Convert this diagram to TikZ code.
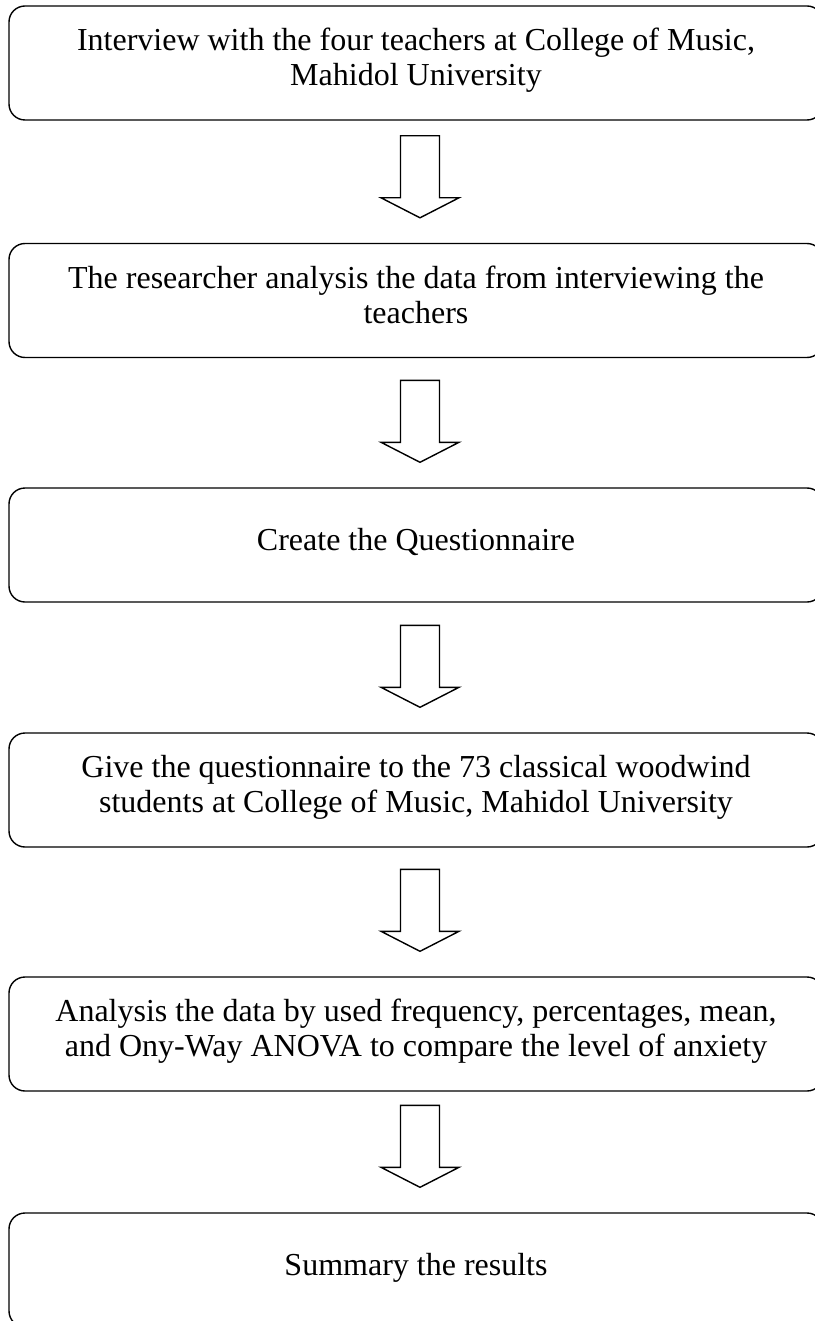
\documentclass[tikz,border=0pt]{standalone}
\usepackage{fontspec}
\setmainfont{Liberation Serif}
\usetikzlibrary{calc}
% strut giving every text line the same height and depth
\newcommand{\lnstrut}{\rule[-12pt]{0pt}{32pt}}
\tikzset{
  stepbox/.style={draw=black, line width=1.4pt, rounded corners=16pt,
    minimum width=814pt, minimum height=114pt, inner sep=0pt,
    align=center, font=\fontsize{32}{35}\selectfont},
  fatarrow/.pic={
    \draw[line width=1.4pt, line join=miter, fill=white]
      (0,0) -- (39,-20) -- (19.5,-20) -- (19.5,-82) -- (-19.5,-82)
      -- (-19.5,-20) -- (-39,-20) -- cycle;
  }
}
\begin{document}
\begin{tikzpicture}[x=1pt, y=-1pt]
\useasboundingbox (0,0) rectangle (814,1321);
\fill[white] (0,0) rectangle (814,1321);

\node[stepbox] (s1) at (416,63)
  {\lnstrut Interview with the four teachers at College of Music,\\\lnstrut Mahidol University};
\node[stepbox] (s2) at (416,300.5)
  {\lnstrut The researcher analysis the data from interviewing the\\\lnstrut teachers};
\node[stepbox] (s3) at (416,545)
  {\lnstrut Create the Questionnaire};
\node[stepbox] (s4) at (416,790)
  {\lnstrut Give the questionnaire to the 73 classical woodwind\\\lnstrut students at College of Music, Mahidol University};
\node[stepbox] (s5) at (416,1034)
  {\lnstrut Analysis the data by used frequency, percentages, mean,\\\lnstrut and Ony-Way ANOVA to compare the level of anxiety};
\node[stepbox] (s6) at (416,1270)
  {\lnstrut Summary the results};

% block arrows, tip placed just above the following step
\pic at ($(s2.north)+(4,-25)$) {fatarrow};
\pic at ($(s3.north)+(4,-25)$) {fatarrow};
\pic at ($(s4.north)+(4,-25)$) {fatarrow};
\pic at ($(s5.north)+(4,-25)$) {fatarrow};
\pic at ($(s6.north)+(4,-25)$) {fatarrow};
\end{tikzpicture}
\end{document}
